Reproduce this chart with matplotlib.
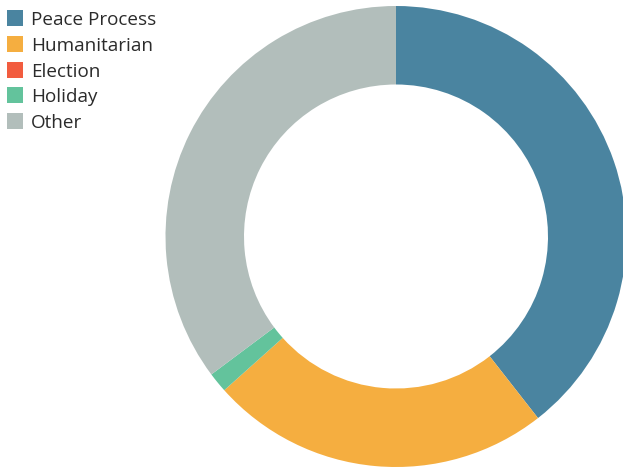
import matplotlib
matplotlib.use("Agg")
import matplotlib.pyplot as plt
from matplotlib.patches import Rectangle

categories = ["Peace Process", "Humanitarian", "Election", "Holiday", "Other"]
counts = [28, 17, 0, 1, 25]
colors = ["#4a84a0", "#f5ae40", "#f25c3f", "#63c39c", "#b2bebb"]

W, H = 623, 468
fig = plt.figure(figsize=(W / 100, H / 100), dpi=100)
ax = fig.add_axes([0, 0, 1, 1])

# ring geometry in pixels
cx, cy, r_out, r_in = 396, 236.5, 230.5, 152

ax.pie(
    counts,
    colors=colors,
    startangle=90,
    counterclock=False,
    radius=1.0,
    wedgeprops=dict(width=1 - r_in / r_out, linewidth=0),
)
ax.set_aspect("auto")
ax.set_xlim(-cx / r_out, (W - cx) / r_out)
ax.set_ylim(-(H - cy) / r_out, cy / r_out)
ax.axis("off")

# legend drawn by hand in pixel coordinates (y from the top)
row_step, first_y, box = 25.8, 18, 16
for i, (label, color) in enumerate(zip(categories, colors)):
    yc = H - (first_y + i * row_step)
    fig.patches.append(Rectangle((7, yc - box / 2), box, box, facecolor=color,
                                 edgecolor="none", transform=None))
    fig.text(31 / W, yc / H, label, ha="left", va="center_baseline",
             family="Open Sans", fontsize=13.6, color="#2b2b2b")

fig.savefig("out.png", dpi=100)
